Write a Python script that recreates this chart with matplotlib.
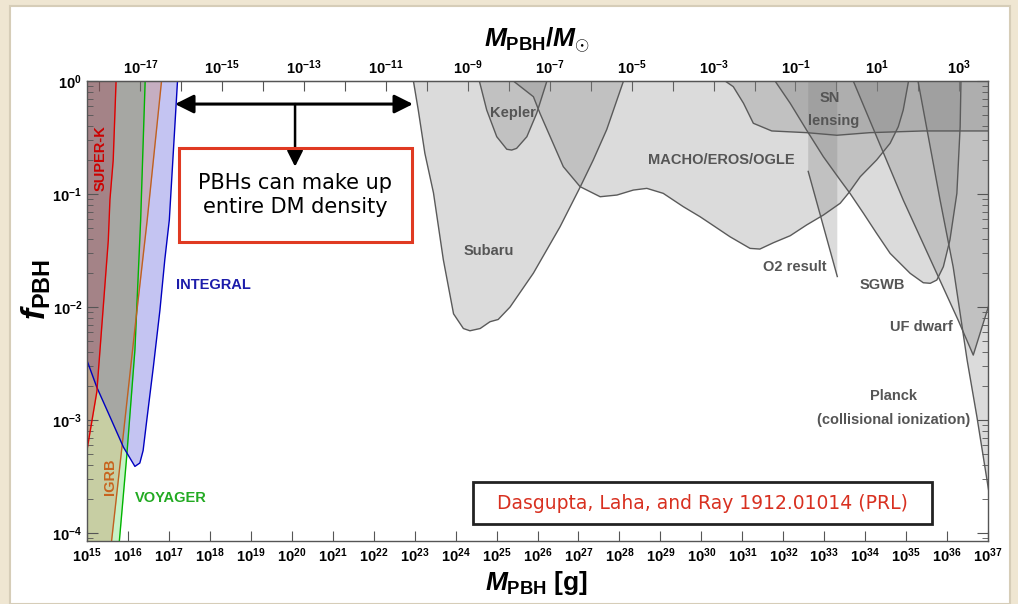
import numpy as np
import matplotlib
matplotlib.use('Agg')
import matplotlib.pyplot as plt
from matplotlib.patches import Rectangle
from matplotlib.ticker import LogLocator, NullFormatter, NullLocator

plt.rcParams['font.family'] = ['Liberation Sans', 'DejaVu Sans']
plt.rcParams['font.weight'] = 'bold'
plt.rcParams['mathtext.fontset'] = 'custom'
plt.rcParams['mathtext.rm'] = 'Liberation Sans:bold'
plt.rcParams['mathtext.it'] = 'Liberation Sans:italic:bold'
plt.rcParams['mathtext.bf'] = 'Liberation Sans:bold'

MSUN = 1.989e33  # grams

# ---- bounds, as log10(M/g) and log10(f_PBH)
superk_lm = [14.9, 15.007, 15.24, 15.52, 15.56, 15.64, 15.71, 15.75]
superk_lf = [-3.48, -3.25, -2.75, -1.41, -1.05, -0.70, 0.0, 0.2]

igrb_lm = [15.56, 15.60, 15.85, 16.17, 16.47, 16.82, 16.85]
igrb_lf = [-4.2, -4.07, -3.25, -2.19, -1.23, 0.0, 0.1]

voyager_lm = [15.76, 15.79, 15.97, 16.17, 16.31, 16.42, 16.44]
voyager_lf = [-4.2, -4.07, -3.32, -2.38, -1.23, 0.0, 0.1]

integral_lm = [14.9, 15.007, 15.24, 15.56, 15.89, 16.17, 16.29, 16.37, 16.46,
               16.62, 16.78, 16.90, 17.01, 17.21, 17.23]
integral_lf = [-2.37, -2.48, -2.71, -2.97, -3.24, -3.41, -3.38, -3.27, -3.00,
               -2.53, -2.03, -1.58, -1.23, 0.0, 0.1]

subaru_lm = [22.97, 23.09, 23.25, 23.46, 23.70, 23.95, 24.19, 24.35, 24.60,
             24.84, 25.04, 25.33, 25.90, 26.55, 27.04, 27.36, 27.69, 28.10]
subaru_lf = [0.0, -0.26, -0.64, -0.99, -1.58, -2.06, -2.19, -2.21, -2.19,
             -2.13, -2.11, -2.00, -1.70, -1.29, -0.94, -0.70, -0.43, 0.0]

kepler_lm = [24.58, 24.76, 25.005, 25.25, 25.37, 25.49, 25.74, 25.98, 26.23]
kepler_lf = [0.0, -0.257, -0.493, -0.604, -0.611, -0.596, -0.493, -0.286, 0.0]

macho_lm = [25.41, 25.90, 26.06, 26.31, 26.63, 27.04, 27.53, 27.94, 28.34,
            28.67, 29.07, 29.56, 29.97, 30.21, 30.70, 31.19, 31.43, 31.76,
            32.17, 32.57, 32.98, 33.39, 33.59, 33.88, 34.28, 34.61, 34.81,
            34.93, 35.06]
macho_lf = [0.0, -0.139, -0.286, -0.493, -0.758, -0.935, -1.024, -1.009, -0.965,
            -0.950, -0.994, -1.112, -1.201, -1.259, -1.378, -1.481, -1.487, -1.431,
            -1.369, -1.274, -1.186, -1.082, -0.994, -0.847, -0.699, -0.551, -0.404,
            -0.257, 0.0]

sn_lm = [30.58, 30.78, 31.03, 31.27, 31.72, 32.57, 33.31, 34.12, 35.42, 37.05]
sn_lf = [0.0, -0.050, -0.197, -0.374, -0.442, -0.457, -0.480, -0.457, -0.442, -0.442]

o2_lm = [32.61, 32.61, 33.32, 33.32]
o2_lf = [0.0, -0.80, -1.73, 0.0]

sgwb_lm = [31.80, 32.17, 32.57, 32.98, 33.39, 33.63, 33.96, 34.28, 34.61, 35.10,
           35.42, 35.59, 35.75, 35.91, 36.07, 36.24, 36.32, 36.34]
sgwb_lf = [0.0, -0.197, -0.434, -0.670, -0.876, -0.994, -1.171, -1.348, -1.525, -1.702,
           -1.785, -1.790, -1.761, -1.643, -1.407, -0.994, -0.404, 0.0]

ufd_lm = [33.71, 34.93, 36.27, 36.64, 37.05]
ufd_lf = [0.0, -1.053, -2.115, -2.425, -1.95]

planck_lm = [35.29, 35.83, 36.15, 36.49, 36.73, 37.05]
planck_lf = [0.0, -1.053, -1.646, -2.469, -2.973, -3.70]

# ---- labels: text, log10 M, log10 f
gray_labels = [
    ("Kepler", 25.40, -0.283), ("Subaru", 24.80, -1.50),
    ("MACHO/EROS/OGLE", 30.50, -0.70), ("SN", 33.14, -0.153),
    ("lensing", 33.24, -0.351), ("O2 result", 32.29, -1.65),
    ("SGWB", 34.41, -1.805), ("UF dwarf", 35.38, -2.18),
    ("Planck", 34.69, -2.79), ("(collisional ionization)", 34.69, -3.0),
]

x_exps = list(range(15, 38))
y_exps = [0, -1, -2, -3, -4]
top_exps = list(range(-18, 4))

fig = plt.figure(figsize=(10.18, 6.04), dpi=100, facecolor='#efe6d2')
fig.patches.append(Rectangle((10 / 1018, 0), 1000 / 1018, 598 / 604,
                             transform=fig.transFigure, facecolor='white',
                             edgecolor='#d6cdb8', lw=1.5, zorder=-5))
ax = fig.add_axes([87 / 1018, 1 - 541 / 604, 901 / 1018, 460 / 604])
ax.set_xscale('log')
ax.set_yscale('log')


def p(a):
    return 10.0 ** np.asarray(a)


# left: evaporation bounds
ax.fill_betweenx(p(voyager_lf), 1e14, p(voyager_lm), color='#00c800', alpha=0.22, lw=0)
ax.fill(np.r_[p(integral_lm), 1e14], np.r_[p(integral_lf), 2.0], color='#0000c8', alpha=0.23, lw=0)
ax.fill_betweenx(p(igrb_lf), 1e14, p(igrb_lm), color='#c87d50', alpha=0.3, lw=0)
ax.fill_betweenx(p(superk_lf), 1e14, p(superk_lm), color='#a02840', alpha=0.28, lw=0)
ax.plot(p(voyager_lm), p(voyager_lf), color='#00b400', lw=1)
ax.plot(p(igrb_lm), p(igrb_lf), color='#c06020', lw=1)
ax.plot(p(integral_lm), p(integral_lf), color='#0000c0', lw=1)
ax.plot(p(superk_lm), p(superk_lf), color='#e00000', lw=1)

# right: lensing, GW, dynamical, CMB bounds
gray_kw = dict(color='#7f7f7f', alpha=0.28, lw=0)
line_kw = dict(color='#5a5a5a', lw=1)
for lm, lf in [(subaru_lm, subaru_lf), (kepler_lm, kepler_lf),
               (macho_lm, macho_lf), (sgwb_lm, sgwb_lf)]:
    ax.fill(p(lm), p(lf), **gray_kw)
    ax.plot(p(lm), p(lf), **line_kw)
ax.fill(np.r_[p(sn_lm), 1e38], np.r_[p(sn_lf), 2.0], **gray_kw)
ax.plot(p(sn_lm), p(sn_lf), **line_kw)
ax.fill(p(o2_lm), p(o2_lf), **gray_kw)
ax.plot(p(o2_lm[1:3]), p(o2_lf[1:3]), **line_kw)
ax.fill(np.r_[p(ufd_lm), 1e38], np.r_[p(ufd_lf), 2.0], **gray_kw)
ax.plot(p(ufd_lm), p(ufd_lf), **line_kw)
ax.fill(np.r_[p(planck_lm), 1e38], np.r_[p(planck_lf), 2.0], **gray_kw)
ax.plot(p(planck_lm), p(planck_lf), **line_kw)

lab_kw = dict(fontsize=10.5, fontweight='bold', ha='center', va='center')
for txt, lm, lf in gray_labels:
    ax.text(10 ** lm, 10 ** lf, txt, color='#555555', **lab_kw)
ax.text(10 ** 15.34, 10 ** -0.68, "SUPER-K", color='#cc0000', rotation=90, **lab_kw)
ax.text(10 ** 15.56, 10 ** -3.5, "IGRB", color='#c8641e', rotation=90, **lab_kw)
ax.text(10 ** 18.08, 10 ** -1.805, "INTEGRAL", color='#1c1caa', **lab_kw)
ax.text(10 ** 17.05, 10 ** -3.69, "VOYAGER", color='#22aa22', **lab_kw)

# arrows and boxes
ax.annotate('', xy=(10 ** 22.96, 10 ** -0.204), xytext=(10 ** 17.15, 10 ** -0.204),
            arrowprops=dict(arrowstyle='<|-|>', color='black', lw=2.2,
                            mutation_scale=28, shrinkA=0, shrinkB=0))
ax.annotate('', xy=(10 ** 20.08, 10 ** -0.758), xytext=(10 ** 20.08, 10 ** -0.204),
            arrowprops=dict(arrowstyle='-|>', color='black', lw=1.8,
                            mutation_scale=24, shrinkA=0, shrinkB=0))
ax.add_patch(Rectangle((0.1021, 0.65), 0.2586, 0.2043, transform=ax.transAxes,
                       facecolor='none', edgecolor='#e03a22', lw=2.2, zorder=5))
ax.text(0.2310, 0.752, "PBHs can make up\nentire DM density", transform=ax.transAxes,
        ha='center', va='center', fontsize=15, fontweight='normal',
        family='DejaVu Sans', linespacing=1.3, zorder=6)
ax.add_patch(Rectangle((0.4284, 0.037), 0.5094, 0.0913, transform=ax.transAxes,
                       facecolor='white', edgecolor='#222222', lw=2.0, zorder=5))
ax.text(0.6826, 0.0826, "Dasgupta, Laha, and Ray 1912.01014 (PRL)", transform=ax.transAxes,
        ha='center', va='center', fontsize=13.5, fontweight='normal', color='#d83020',
        family='DejaVu Sans', zorder=6)

# axes
ax.set_xlim(1e15, 1e37)
ax.set_ylim(10 ** -4.07, 1)
ax.set_xticks([10.0 ** e for e in x_exps],
              [rf'$\mathdefault{{10^{{{e}}}}}$' for e in x_exps])
ax.xaxis.set_minor_locator(NullLocator())
ax.set_yticks([10.0 ** e for e in y_exps],
              [rf'$\mathdefault{{10^{{{e}}}}}$' for e in y_exps])
ax.yaxis.set_minor_locator(LogLocator(base=10, subs=np.arange(2, 10)))
ax.yaxis.set_minor_formatter(NullFormatter())
ax.tick_params(which='both', direction='in', color='#555555', labelsize=10.5)
ax.tick_params(axis='x', which='major', length=7, pad=4)
ax.tick_params(axis='y', which='major', length=8, right=True)
ax.tick_params(axis='y', which='minor', length=4, right=True)
for s in ax.spines.values():
    s.set_color('#555555')
    s.set_linewidth(1)

sec = ax.secondary_xaxis('top', functions=(lambda m: m / MSUN, lambda r: r * MSUN))
sec.set_xticks([10.0 ** e for e in top_exps],
               [rf'$\mathdefault{{10^{{{e}}}}}$' if e % 2 else '' for e in top_exps])
sec.xaxis.set_minor_locator(NullLocator())
sec.tick_params(direction='in', length=7, color='#555555', labelsize=10.5, pad=3)
sec.spines['top'].set_color('#555555')

fig.text(36 / 1018, 1 - 290 / 604, r'$f_{\rm PBH}$', rotation=90, fontsize=24,
         ha='center', va='center')
fig.text(537 / 1018, 1 - 583 / 604, r'$M_{\rm PBH}$ [g]', fontsize=19,
         ha='center', va='center')
fig.text(537 / 1018, 1 - 40 / 604, r'$M_{\rm PBH}{\rm /}M_{\odot}$', fontsize=19,
         ha='center', va='center')

fig.savefig('out.png', dpi=100, facecolor=fig.get_facecolor())
